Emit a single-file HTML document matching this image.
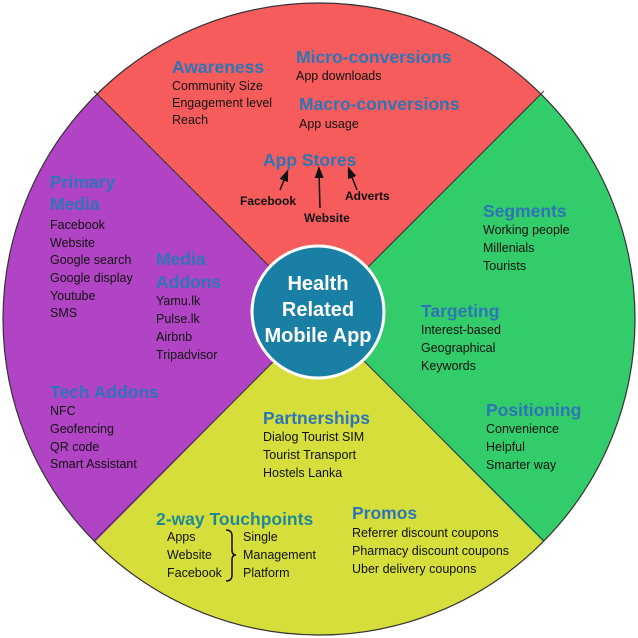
<!DOCTYPE html>
<html><head><meta charset="utf-8"><style>
html,body{margin:0;padding:0;background:#fff;}
svg{display:block}
.h{font-family:"Liberation Sans",sans-serif;font-weight:bold;font-size:17.5px;fill:#2e75b6}
.b{font-family:"Liberation Sans",sans-serif;font-size:12.5px;fill:#111}
.k{font-family:"Liberation Sans",sans-serif;font-weight:bold;font-size:12.5px;fill:#111}
</style></head><body>
<svg width="638" height="638" viewBox="0 0 638 638" xmlns="http://www.w3.org/2000/svg">
<defs><clipPath id="c"><circle cx="319" cy="319" r="316"/></clipPath>
<marker id="a" markerWidth="8" markerHeight="8" refX="4" refY="4" orient="auto"><path d="M0,1 L8,4 L0,7 z" fill="#111"/></marker></defs>
<g clip-path="url(#c)">
<polygon points="319,316 -10,-13 648,-13" fill="#f65c5c"/>
<polygon points="319,316 648,-13 648,648" fill="#33cc6a"/>
<polygon points="319,316 648,648 -10,648" fill="#d6de3c"/>
<polygon points="319,316 -10,648 -10,-13" fill="#b144c4"/>
</g>
<circle cx="319" cy="319" r="316" fill="none" stroke="#333" stroke-width="1.2"/>
<line x1="319" y1="316" x2="94" y2="91" stroke="#333"/>
<line x1="319" y1="316" x2="544" y2="91" stroke="#333"/>
<line x1="319" y1="316" x2="544" y2="541" stroke="#333"/>
<line x1="319" y1="316" x2="94" y2="541" stroke="#333"/>
<circle cx="318" cy="312" r="66" fill="#1a7fa4" stroke="#fff" stroke-width="3"/>
<text class="h" x="318" y="290" text-anchor="middle" style="fill:#fff;font-size:20px">Health</text>
<text class="h" x="318" y="316" text-anchor="middle" style="fill:#fff;font-size:20px">Related</text>
<text class="h" x="318" y="342" text-anchor="middle" style="fill:#fff;font-size:20px">Mobile App</text>

<text class="h" x="172" y="73">Awareness</text>
<text class="b" x="172" y="90">Community Size</text>
<text class="b" x="172" y="107">Engagement level</text>
<text class="b" x="172" y="124">Reach</text>
<text class="h" x="296" y="63">Micro-conversions</text>
<text class="b" x="296" y="80">App downloads</text>
<text class="h" x="299" y="110">Macro-conversions</text>
<text class="b" x="299" y="128">App usage</text>
<text class="h" x="263" y="166">App Stores</text>
<line x1="280" y1="190" x2="286" y2="175" stroke="#111" stroke-width="1.5" marker-end="url(#a)"/>
<line x1="320" y1="208" x2="319" y2="172" stroke="#111" stroke-width="1.5" marker-end="url(#a)"/>
<line x1="357" y1="190" x2="350" y2="172" stroke="#111" stroke-width="1.5" marker-end="url(#a)"/>
<text class="k" x="240" y="205" style="font-size:12px">Facebook</text>
<text class="k" x="304" y="222" style="font-size:12px">Website</text>
<text class="k" x="345" y="200" style="font-size:12px">Adverts</text>

<text class="h" x="50" y="188">Primary</text>
<text class="h" x="50" y="210">Media</text>
<text class="b" x="50" y="229">Facebook</text>
<text class="b" x="50" y="247">Website</text>
<text class="b" x="50" y="264">Google search</text>
<text class="b" x="50" y="282">Google display</text>
<text class="b" x="50" y="300">Youtube</text>
<text class="b" x="50" y="317">SMS</text>
<text class="h" x="156" y="265">Media</text>
<text class="h" x="156" y="288">Addons</text>
<text class="b" x="156" y="305">Yamu.lk</text>
<text class="b" x="156" y="323">Pulse.lk</text>
<text class="b" x="156" y="341">Airbnb</text>
<text class="b" x="156" y="359">Tripadvisor</text>
<text class="h" x="50" y="398">Tech Addons</text>
<text class="b" x="50" y="415">NFC</text>
<text class="b" x="50" y="433">Geofencing</text>
<text class="b" x="50" y="451">QR code</text>
<text class="b" x="50" y="468">Smart Assistant</text>

<text class="h" x="483" y="217">Segments</text>
<text class="b" x="483" y="234">Working people</text>
<text class="b" x="483" y="252">Millenials</text>
<text class="b" x="483" y="270">Tourists</text>
<text class="h" x="421" y="317">Targeting</text>
<text class="b" x="421" y="334">Interest-based</text>
<text class="b" x="421" y="352">Geographical</text>
<text class="b" x="421" y="370">Keywords</text>
<text class="h" x="486" y="416">Positioning</text>
<text class="b" x="486" y="433">Convenience</text>
<text class="b" x="486" y="451">Helpful</text>
<text class="b" x="486" y="469">Smarter way</text>

<text class="h" x="263" y="424">Partnerships</text>
<text class="b" x="263" y="441">Dialog Tourist SIM</text>
<text class="b" x="263" y="459">Tourist Transport</text>
<text class="b" x="263" y="477">Hostels Lanka</text>
<text class="h" x="156" y="525" style="fill:#1f8a94">2-way Touchpoints</text>
<text class="b" x="167" y="541">Apps</text>
<text class="b" x="167" y="559">Website</text>
<text class="b" x="167" y="577">Facebook</text>
<path d="M226,530 q6,0 6,6 v14 q0,5 4,5 q-4,0 -4,5 v15 q0,6 -6,6" fill="none" stroke="#111" stroke-width="1.5"/>
<text class="b" x="243" y="541">Single</text>
<text class="b" x="243" y="559">Management</text>
<text class="b" x="243" y="577">Platform</text>
<text class="h" x="352" y="519">Promos</text>
<text class="b" x="352" y="537">Referrer discount coupons</text>
<text class="b" x="352" y="555">Pharmacy discount coupons</text>
<text class="b" x="352" y="573">Uber delivery coupons</text>
</svg>
</body></html>
